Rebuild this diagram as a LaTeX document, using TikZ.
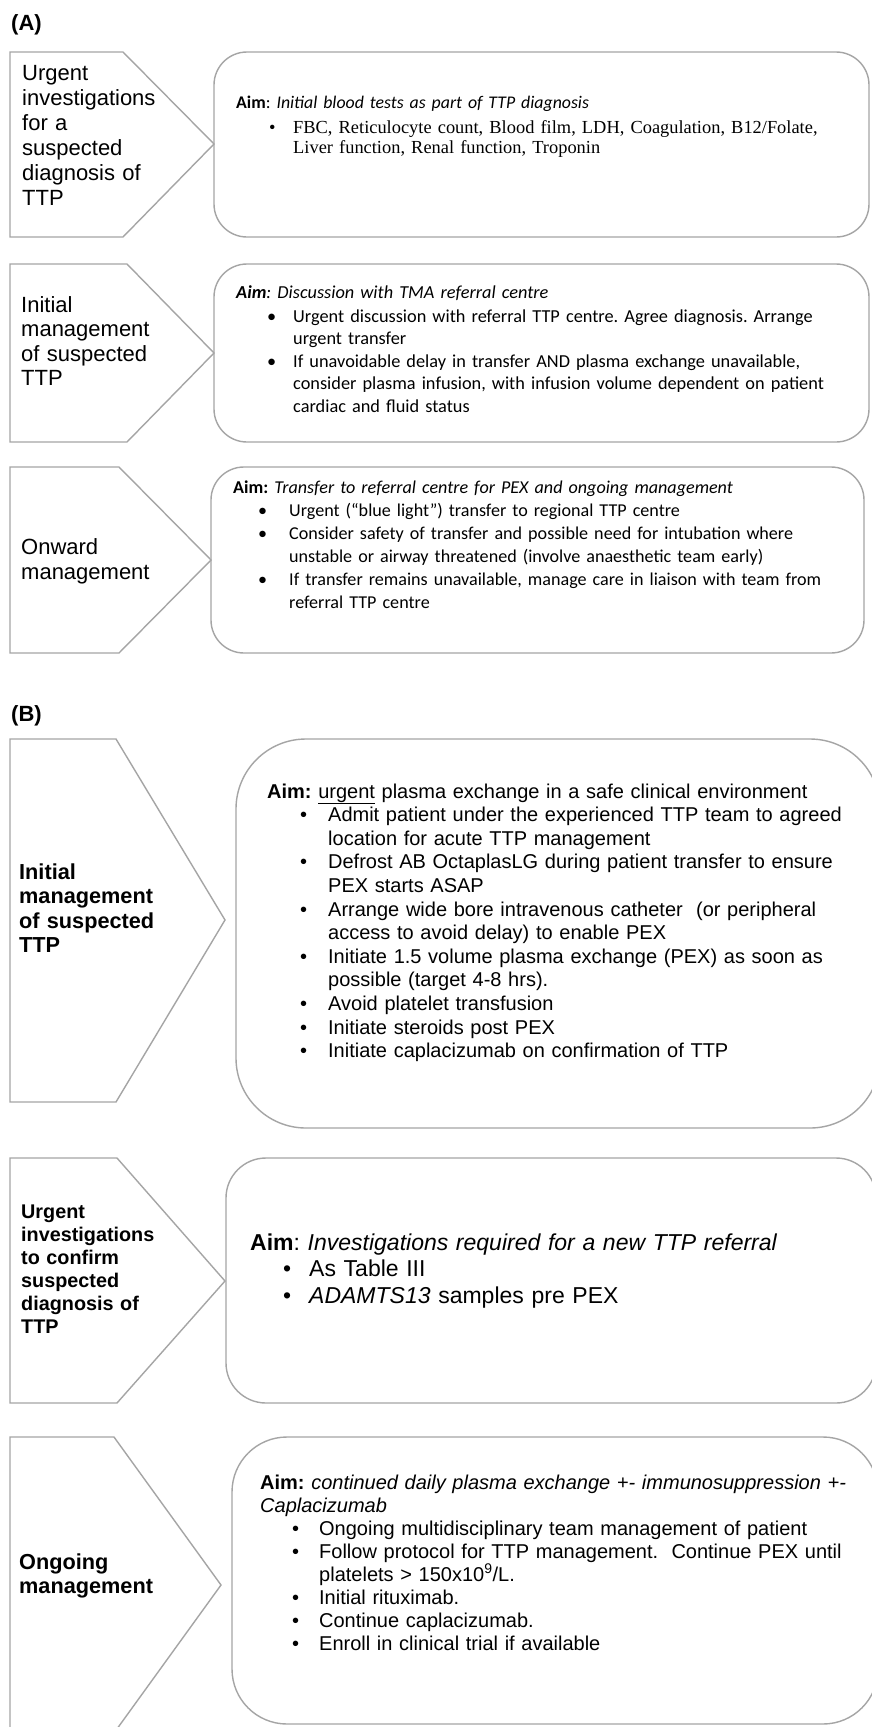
\documentclass[tikz,border=0pt]{standalone}
\usepackage{fontspec}
\setmainfont{Liberation Sans}
\newfontfamily\calfont{Carlito}
\newfontfamily\timesfont{Liberation Serif}
\frenchspacing
\definecolor{outlc}{RGB}{165,165,165}
\newcommand\blt[2]{\hspace*{#1}\makebox[#2][l]{•}}
\tikzset{
  outl/.style={draw=outlc, line width=1.4pt, line join=miter},
  txt/.style={anchor=base west, inner sep=0pt, text width=660pt, align=left, execute at begin node=\frenchspacing},
}
\begin{document}
\begin{tikzpicture}[x=1pt,y=-1pt]
\useasboundingbox (0,0) rectangle (872,1727);
\fill[white] (0,0) rectangle (872,1727);
\clip (0,0) rectangle (872,1727);

% ---------- (A) ----------
\node[anchor=base west, inner sep=0pt, font=\bfseries\fontsize{22}{26}\selectfont] (labA) at (11,30) {(A)};

% row A1
\draw[outl] (10,52) -- (123,52) -- (214,144) -- (123,237) -- (10,237) -- cycle;
\draw[outl, rounded corners=33pt] (214,52) rectangle (869,237);
\node[txt, font=\fontsize{22}{25}\selectfont] (cA1) at (22,80)
  {Urgent\\investigations\\for a\\suspected\\diagnosis of\\TTP};
\node[txt, font=\calfont\fontsize{17.8}{25}\selectfont] (aA1) at (236,108)
  {\textbf{Aim}: \textit{Initial blood tests as part of TTP diagnosis}};
\node[txt, font=\timesfont\fontsize{18.4}{20}\selectfont] (bA1) at (236,133)
  {\blt{33pt}{24pt}FBC, Reticulocyte count, Blood film, LDH, Coagulation, B12/Folate,\\
   \hspace*{57pt}Liver function, Renal function, Troponin};

% row A2
\draw[outl] (10,264) -- (127,264) -- (214,353) -- (127,442) -- (10,442) -- cycle;
\draw[outl, rounded corners=33pt] (214,264) rectangle (869,442);
\node[txt, font=\fontsize{22}{24.5}\selectfont] (cA2) at (21,312)
  {Initial\\management\\of suspected\\TTP};
\node[txt, font=\calfont\fontsize{18.3}{22.5}\selectfont] (tA2) at (236,298)
  {\textbf{\textit{Aim}}\textit{: Discussion with TMA referral centre}\\[1.5pt]
   \blt{31pt}{26pt}Urgent discussion with referral TTP centre. Agree diagnosis. Arrange\\
   \hspace*{57pt}urgent transfer\\
   \blt{31pt}{26pt}If unavoidable delay in transfer AND plasma exchange unavailable,\\
   \hspace*{57pt}consider plasma infusion, with infusion volume dependent on patient\\
   \hspace*{57pt}cardiac and fluid status};

% row A3
\draw[outl] (10,467) -- (119,467) -- (211,560) -- (119,653) -- (10,653) -- cycle;
\draw[outl, rounded corners=33pt] (211,467) rectangle (864,653);
\node[txt, font=\fontsize{22}{25}\selectfont] (cA3) at (21,554)
  {Onward\\management};
\node[txt, font=\calfont\fontsize{18.1}{23}\selectfont] (tA3) at (233,493)
  {\textbf{Aim:} \textit{Transfer to referral centre for PEX and ongoing management}\\
   \blt{25pt}{31pt}Urgent (“blue light”) transfer to regional TTP centre\\
   \blt{25pt}{31pt}Consider safety of transfer and possible need for intubation where\\
   \hspace*{56pt}unstable or airway threatened (involve anaesthetic team early)\\
   \blt{25pt}{31pt}If transfer remains unavailable, manage care in liaison with team from\\
   \hspace*{56pt}referral TTP centre};

% ---------- (B) ----------
\node[anchor=base west, inner sep=0pt, font=\bfseries\fontsize{22}{26}\selectfont] (labB) at (11,721) {(B)};

% row B1
\draw[outl] (10,739) -- (116,739) -- (225,920) -- (116,1102) -- (10,1102) -- cycle;
\draw[outl, rounded corners=70pt] (236,739) rectangle (880,1128);
\node[txt, font=\bfseries\fontsize{21.7}{24.5}\selectfont] (cB1) at (19,879)
  {Initial\\management\\of suspected\\TTP};
\node[txt, font=\fontsize{20}{23.6}\selectfont] (tB1) at (267,798)
  {\textbf{Aim:} \underline{urgent} plasma exchange in a safe clinical environment\\
   \blt{33pt}{28pt}Admit patient under the experienced TTP team to agreed\\
   \hspace*{61pt}location for acute TTP management\\
   \blt{33pt}{28pt}Defrost AB OctaplasLG during patient transfer to ensure\\
   \hspace*{61pt}PEX starts ASAP\\
   \blt{33pt}{28pt}Arrange wide bore intravenous catheter\ \ (or peripheral\\
   \hspace*{61pt}access to avoid delay) to enable PEX\\
   \blt{33pt}{28pt}Initiate 1.5 volume plasma exchange (PEX) as soon as\\
   \hspace*{61pt}possible (target 4-8 hrs).\\
   \blt{33pt}{28pt}Avoid platelet transfusion\\
   \blt{33pt}{28pt}Initiate steroids post PEX\\
   \blt{33pt}{28pt}Initiate caplacizumab on confirmation of TTP};

% row B2
\draw[outl] (10,1158) -- (117,1158) -- (225,1281) -- (117,1403) -- (10,1403) -- cycle;
\draw[outl, rounded corners=40pt] (226,1158) rectangle (876,1403);
\node[txt, font=\bfseries\fontsize{19.8}{23}\selectfont] (cB2) at (21,1218)
  {Urgent\\investigations\\to confirm\\suspected\\diagnosis of\\TTP};
\node[txt, font=\fontsize{23}{26.5}\selectfont] (tB2) at (250,1250)
  {\textbf{Aim}: \textit{Investigations required for a new TTP referral}\\
   \blt{33pt}{26pt}As Table III\\
   \blt{33pt}{26pt}\textit{ADAMTS13} samples pre PEX};

% row B3
\draw[outl] (10,1437) -- (114,1437) -- (221,1585) -- (114,1733) -- (10,1733) -- cycle;
\draw[outl, rounded corners=55pt] (232,1437) rectangle (878,1724);
\node[txt, font=\bfseries\fontsize{21.7}{24}\selectfont] (cB3) at (19,1569)
  {Ongoing\\management};
\node[txt, font=\fontsize{20}{23}\selectfont] (tB3) at (260,1489)
  {\textbf{Aim:} \textit{continued daily plasma exchange +- immunosuppression +-}\\
   \textit{Caplacizumab}\\
   \blt{32pt}{27pt}Ongoing multidisciplinary team management of patient\\
   \blt{32pt}{27pt}Follow protocol for TTP management.\ \ Continue PEX until\\
   \hspace*{59pt}platelets > 150x10\textsuperscript{9}/L.\\
   \blt{32pt}{27pt}Initial rituximab.\\
   \blt{32pt}{27pt}Continue caplacizumab.\\
   \blt{32pt}{27pt}Enroll in clinical trial if available};
\end{tikzpicture}
\end{document}
